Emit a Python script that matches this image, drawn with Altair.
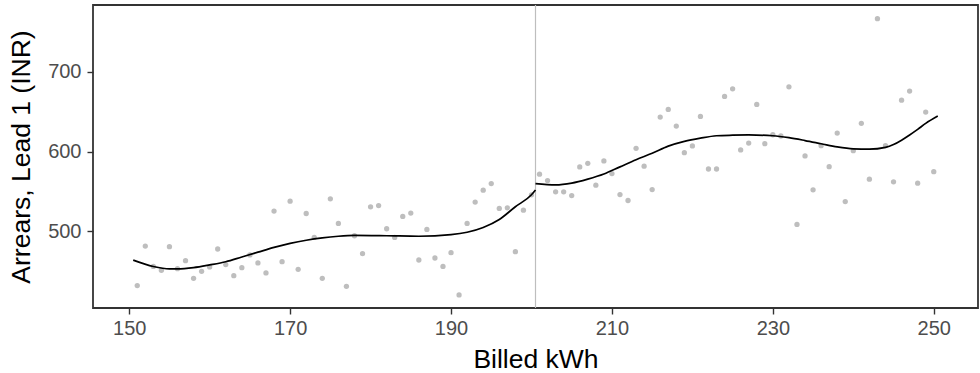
import altair as alt
import pandas as pd

# Scatter points (Billed kWh, Arrears lead 1)
kwh = [151, 152, 153, 154, 155, 156, 157, 158, 159, 160,
       161, 162, 163, 164, 165, 166, 167, 168, 169, 170,
       171, 172, 173, 174, 175, 176, 177, 178, 179, 180,
       181, 182, 183, 184, 185, 186, 187, 188, 189, 190,
       191, 192, 193, 194, 195, 196, 197, 198, 199, 200,
       201, 202, 203, 204, 205, 206, 207, 208, 209, 210,
       211, 212, 213, 214, 215, 216, 217, 218, 219, 220,
       221, 222, 223, 224, 225, 226, 227, 228, 229, 230,
       231, 232, 233, 234, 235, 236, 237, 238, 239, 240,
       241, 242, 243, 244, 245, 246, 247, 248, 249, 250]
arrears = [432.1, 481.7, 456.2, 451.2, 480.9, 453.3, 463.4, 441.2, 450.0, 455.5,
           478.0, 458.4, 444.6, 454.6, 470.5, 460.5, 448.0, 525.5, 462.1, 538.0,
           452.5, 522.5, 492.5, 441.2, 540.9, 510.0, 431.2, 494.6, 472.1, 530.9,
           532.5, 503.4, 492.5, 518.8, 523.0, 464.2, 502.5, 466.7, 456.2, 473.4,
           420.4, 510.0, 536.8, 551.8, 560.1, 528.9, 529.6, 474.6, 526.7, 545.9,
           571.8, 563.8, 549.7, 549.7, 545.0, 580.9, 585.5, 558.0, 588.4, 572.6,
           546.3, 538.8, 604.3, 581.8, 552.5, 643.5, 653.1, 632.2, 598.8, 607.2,
           644.3, 578.3, 578.3, 669.4, 678.9, 602.2, 610.9, 659.3, 610.1, 621.3,
           619.7, 681.4, 508.8, 594.7, 552.2, 607.6, 581.3, 623.4, 537.5, 601.3,
           635.6, 565.5, 766.9, 607.6, 562.2, 664.7, 676.0, 560.5, 649.7, 575.0]

# Fitted curve, left of cutoff
left_x = [150.5, 153, 155, 156, 158, 160, 162, 164, 166, 168, 170, 172, 174,
          176, 178, 182, 186, 190, 192, 194, 196, 198, 200, 200.5]
left_y = [464, 456, 453, 453, 454.6, 458, 462, 468, 474, 480, 485, 489, 492,
          494, 495, 494.6, 494, 496, 499, 505, 515, 531, 546, 552]

# Fitted curve, right of cutoff
right_x = [200.5, 203, 205, 207, 209, 211, 213, 215, 217, 219, 221, 223, 225,
           227, 230, 232, 234, 236, 238, 240, 242, 244, 245, 246, 247, 248,
           249, 250.5]
right_y = [560, 558.4, 560.6, 565.6, 572, 581, 590, 598, 607, 613, 617, 620,
           620.7, 621, 620, 617.6, 614, 610, 606, 603.6, 603.2, 605.5, 609,
           614.5, 621, 628, 635.5, 644.7]

cutoff = [200.5]
x_ticks = [150, 170, 190, 210, 230, 250]
y_ticks = [500, 600, 700]

pts = pd.DataFrame({"kwh": kwh, "arrears": arrears})
curve = pd.DataFrame({
    "kwh": left_x + right_x,
    "fit": left_y + right_y,
    "side": ["left"] * len(left_x) + ["right"] * len(right_x),
})
cut = pd.DataFrame({"kwh": cutoff})

xscale = alt.Scale(domain=[145.5, 255.5], nice=False, zero=False)
yscale = alt.Scale(domain=[404, 784], nice=False, zero=False)

xaxis = alt.Axis(values=x_ticks, title="Billed kWh", titleY=59,
                 titleBaseline="alphabetic", labelPadding=4)
yaxis = alt.Axis(values=y_ticks, title="Arrears, Lead 1 (INR)",
                 titleX=-72, titleY=151.5, titleBaseline="middle",
                 titleAngle=-90, labelPadding=6)

points = alt.Chart(pts).mark_circle(size=28, color="#BEBEBE", opacity=1).encode(
    x=alt.X("kwh:Q", scale=xscale, axis=xaxis),
    y=alt.Y("arrears:Q", scale=yscale, axis=yaxis),
)

rule = alt.Chart(cut).mark_rule(color="#BEBEBE", strokeWidth=1.2).encode(
    x=alt.X("kwh:Q", scale=xscale),
)

lines = alt.Chart(curve).mark_line(color="black", strokeWidth=1.7,
                                   interpolate="monotone").encode(
    x=alt.X("kwh:Q", scale=xscale),
    y=alt.Y("fit:Q", scale=yscale),
    detail="side:N",
)

chart = alt.layer(rule, points, lines).properties(
    width=885, height=303,
    padding={"left": 93, "top": 5, "right": 2, "bottom": 65},
    autosize=alt.AutoSizeParams(type="none"),
    background="white",
).configure_view(
    stroke="#333333", strokeWidth=1.8
).configure_axis(
    grid=False, domain=False,
    tickColor="#333333", tickWidth=1.4, tickSize=6,
    labelColor="#4D4D4D", labelFont="Liberation Sans", labelFontSize=20,
    titleColor="black", titleFont="Liberation Sans", titleFontSize=26.5,
    titleFontWeight="normal",
)

chart.save("out.html", embed_options={"renderer": "svg", "actions": False})
